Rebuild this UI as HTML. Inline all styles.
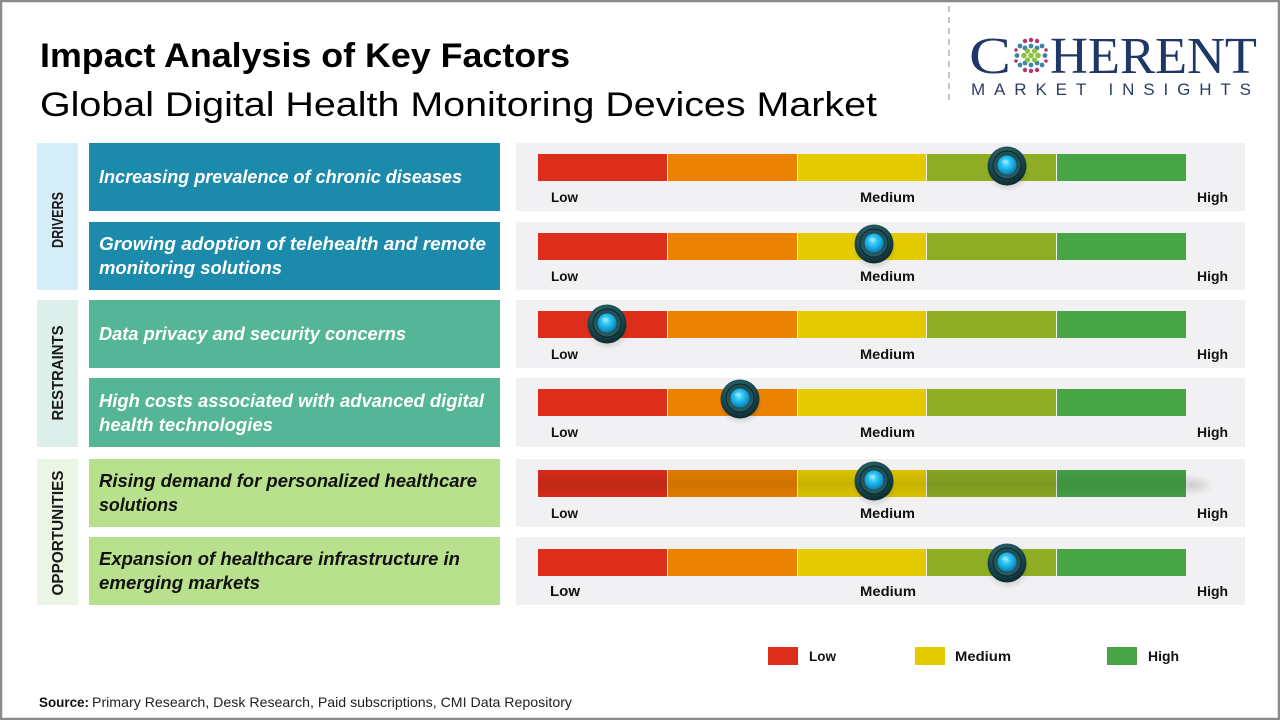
<!DOCTYPE html>
<html>
<head>
<meta charset="utf-8">
<style>
  html,body{margin:0;padding:0;background:#fff;}
  svg{display:block;}
  text{font-family:"Liberation Sans", sans-serif;}
</style>
</head>
<body>
<svg width="1280" height="720" viewBox="0 0 1280 720" xmlns="http://www.w3.org/2000/svg">
  <defs>
    <radialGradient id="outer" cx="45%" cy="35%" r="65%">
      <stop offset="0" stop-color="#3f7c82"/>
      <stop offset="0.6" stop-color="#1c4d53"/>
      <stop offset="1" stop-color="#0b2a2e"/>
    </radialGradient>
    <radialGradient id="ring" cx="50%" cy="40%" r="60%">
      <stop offset="0" stop-color="#12393d"/>
      <stop offset="1" stop-color="#2a6066"/>
    </radialGradient>
    <radialGradient id="ball" cx="45%" cy="38%" r="62%">
      <stop offset="0" stop-color="#7fe4ff"/>
      <stop offset="0.45" stop-color="#22bdf0"/>
      <stop offset="1" stop-color="#0a7fb8"/>
    </radialGradient>
    <radialGradient id="shadow" cx="50%" cy="50%" r="50%">
      <stop offset="0" stop-color="#000" stop-opacity="0.35"/>
      <stop offset="1" stop-color="#000" stop-opacity="0"/>
    </radialGradient>
    <radialGradient id="barshadow" cx="50%" cy="50%" r="50%">
      <stop offset="0" stop-color="#000" stop-opacity="0.15"/>
      <stop offset="1" stop-color="#000" stop-opacity="0"/>
    </radialGradient>
    <linearGradient id="dark" x1="0" y1="0" x2="0" y2="1">
      <stop offset="0" stop-color="#000" stop-opacity="0.05"/>
      <stop offset="0.5" stop-color="#000" stop-opacity="0.12"/>
      <stop offset="1" stop-color="#000" stop-opacity="0.05"/>
    </linearGradient>
    <g id="knob">
      <ellipse cx="1" cy="6" rx="22" ry="20" fill="url(#shadow)"/>
      <circle cx="0" cy="0" r="19.5" fill="url(#outer)"/>
      <circle cx="0" cy="-1" r="14" fill="url(#ring)" stroke="#0a2528" stroke-width="1"/>
      <circle cx="0" cy="-1" r="9.5" fill="url(#ball)"/>
      <ellipse cx="-2" cy="-4.5" rx="3" ry="2" fill="#d8f8ff" opacity="0.35"/>
    </g>
    <g id="bar">
      <rect x="538" y="0" width="129" height="27" fill="#dc2e1a"/>
      <rect x="668" y="0" width="129" height="27" fill="#eb8200"/>
      <rect x="798" y="0" width="128" height="27" fill="#e4cb00"/>
      <rect x="927" y="0" width="129" height="27" fill="#8fad24"/>
      <rect x="1057" y="0" width="129" height="27" fill="#47a547"/>
    </g>
  </defs>

  <!-- frame -->
  <rect x="1" y="1" width="1278" height="718" fill="#ffffff" stroke="#8a8a8a" stroke-width="2.5"/>

  <!-- titles -->
  <text x="40" y="67" font-size="34" font-weight="bold" fill="#000" textLength="530" lengthAdjust="spacingAndGlyphs">Impact Analysis of Key Factors</text>
  <text x="40" y="116" font-size="34" fill="#000" textLength="837" lengthAdjust="spacingAndGlyphs">Global Digital Health Monitoring Devices Market</text>

  <!-- logo -->
  <line x1="949" y1="6" x2="949" y2="100" stroke="#b0b0b0" stroke-width="1.5" stroke-dasharray="6,5"/>
  <text x="969" y="73" font-size="52" fill="#1f3766" textLength="42" lengthAdjust="spacingAndGlyphs" style="font-family:'Liberation Serif',serif">C</text>
  <text x="1050" y="73" font-size="52" fill="#1f3766" textLength="207" lengthAdjust="spacingAndGlyphs" style="font-family:'Liberation Serif',serif">HERENT</text>
  <g>
    <g fill="#b8336a">
      <circle cx="1025" cy="41" r="2.2"/><circle cx="1031" cy="40" r="2.2"/><circle cx="1037" cy="41" r="2.2"/>
      <circle cx="1025" cy="70" r="2.2"/><circle cx="1031" cy="71" r="2.2"/><circle cx="1037" cy="70" r="2.2"/>
      <circle cx="1016" cy="50" r="1.8"/><circle cx="1046" cy="50" r="1.8"/>
      <circle cx="1016" cy="61" r="1.8"/><circle cx="1046" cy="61" r="1.8"/>
    </g>
    <g fill="#3a85a8">
      <circle cx="1020" cy="46" r="2.4"/><circle cx="1042" cy="46" r="2.4"/>
      <circle cx="1020" cy="65" r="2.4"/><circle cx="1042" cy="65" r="2.4"/>
      <circle cx="1025" cy="48" r="2.4"/><circle cx="1037" cy="48" r="2.4"/>
      <circle cx="1025" cy="63" r="2.4"/><circle cx="1037" cy="63" r="2.4"/>
      <circle cx="1031" cy="46" r="2.4"/><circle cx="1031" cy="65" r="2.4"/>
      <circle cx="1017" cy="55.5" r="2.4"/><circle cx="1045" cy="55.5" r="2.4"/>
    </g>
    <g fill="#8cc43f">
      <circle cx="1024" cy="55.5" r="2.8"/><circle cx="1031" cy="55.5" r="2.8"/><circle cx="1038" cy="55.5" r="2.8"/>
      <circle cx="1027.5" cy="51" r="2.6"/><circle cx="1034.5" cy="51" r="2.6"/>
      <circle cx="1027.5" cy="60" r="2.6"/><circle cx="1034.5" cy="60" r="2.6"/>
    </g>
  </g>
  <text x="971" y="95" font-size="17" fill="#2a3e66" textLength="280" lengthAdjust="spacing">MARKET INSIGHTS</text>

  <!-- category bands -->
  <rect x="37" y="143" width="41" height="147" fill="#d4edf7"/>
  <rect x="37" y="300" width="41" height="147" fill="#dcefea"/>
  <rect x="37" y="459" width="41" height="146" fill="#ebf5e3"/>
  <text transform="translate(63,220) rotate(-90)" text-anchor="middle" font-size="16" font-weight="bold" fill="#1a1a1a" textLength="56" lengthAdjust="spacingAndGlyphs">DRIVERS</text>
  <text transform="translate(63,373) rotate(-90)" text-anchor="middle" font-size="16" font-weight="bold" fill="#1a1a1a" textLength="95" lengthAdjust="spacingAndGlyphs">RESTRAINTS</text>
  <text transform="translate(63,533) rotate(-90)" text-anchor="middle" font-size="16" font-weight="bold" fill="#1a1a1a" textLength="125" lengthAdjust="spacingAndGlyphs">OPPORTUNITIES</text>

  <!-- factor boxes -->
  <rect x="89" y="143" width="411" height="68" fill="#1b8aab"/>
  <rect x="89" y="222" width="411" height="68" fill="#1b8aab"/>
  <rect x="89" y="300" width="411" height="68" fill="#54b597"/>
  <rect x="89" y="378" width="411" height="69" fill="#54b597"/>
  <rect x="89" y="459" width="411" height="68" fill="#b9e08d"/>
  <rect x="89" y="537" width="411" height="68" fill="#b9e08d"/>

  <g font-size="18" font-weight="bold" font-style="italic">
    <text x="99" y="183" fill="#fff" textLength="363" lengthAdjust="spacingAndGlyphs">Increasing prevalence of chronic diseases</text>
    <text x="99" y="250" fill="#fff" textLength="387" lengthAdjust="spacingAndGlyphs">Growing adoption of telehealth and remote</text>
    <text x="99" y="274" fill="#fff" textLength="183" lengthAdjust="spacingAndGlyphs">monitoring solutions</text>
    <text x="99" y="340" fill="#fff" textLength="307" lengthAdjust="spacingAndGlyphs">Data privacy and security concerns</text>
    <text x="99" y="407" fill="#fff" textLength="385" lengthAdjust="spacingAndGlyphs">High costs associated with advanced digital</text>
    <text x="99" y="431" fill="#fff" textLength="174" lengthAdjust="spacingAndGlyphs">health technologies</text>
    <text x="99" y="487" fill="#111" textLength="378" lengthAdjust="spacingAndGlyphs">Rising demand for personalized healthcare</text>
    <text x="99" y="511" fill="#111" textLength="79" lengthAdjust="spacingAndGlyphs">solutions</text>
    <text x="99" y="565" fill="#111" textLength="361" lengthAdjust="spacingAndGlyphs">Expansion of healthcare infrastructure in</text>
    <text x="99" y="589" fill="#111" textLength="161" lengthAdjust="spacingAndGlyphs">emerging markets</text>
  </g>

  <!-- gauge panels -->
  <g fill="#f1f1f3">
    <rect x="516" y="143" width="729" height="68"/>
    <rect x="516" y="222" width="729" height="68"/>
    <rect x="516" y="300" width="729" height="68"/>
    <rect x="516" y="378" width="729" height="69"/>
    <rect x="516" y="459" width="729" height="68"/>
    <rect x="516" y="537" width="729" height="68"/>
  </g>

  <use href="#bar" y="154"/>
  <use href="#bar" y="233"/>
  <use href="#bar" y="311"/>
  <use href="#bar" y="389"/>
  <ellipse cx="1192" cy="485" rx="22" ry="11" fill="url(#barshadow)"/>
  <use href="#bar" y="470"/>
  <rect x="538" y="470" width="648" height="27" fill="url(#dark)"/>
  <use href="#bar" y="549"/>

  <!-- gauge labels -->
  <g font-size="14" font-weight="bold" fill="#111">
    <text x="551" y="202" textLength="27" lengthAdjust="spacingAndGlyphs">Low</text>
    <text x="860" y="202" textLength="55" lengthAdjust="spacingAndGlyphs">Medium</text>
    <text x="1197" y="202" textLength="31" lengthAdjust="spacingAndGlyphs">High</text>

    <text x="551" y="281" textLength="27" lengthAdjust="spacingAndGlyphs">Low</text>
    <text x="860" y="281" textLength="55" lengthAdjust="spacingAndGlyphs">Medium</text>
    <text x="1197" y="281" textLength="31" lengthAdjust="spacingAndGlyphs">High</text>

    <text x="551" y="359" textLength="27" lengthAdjust="spacingAndGlyphs">Low</text>
    <text x="860" y="359" textLength="55" lengthAdjust="spacingAndGlyphs">Medium</text>
    <text x="1197" y="359" textLength="31" lengthAdjust="spacingAndGlyphs">High</text>

    <text x="551" y="437" textLength="27" lengthAdjust="spacingAndGlyphs">Low</text>
    <text x="860" y="437" textLength="55" lengthAdjust="spacingAndGlyphs">Medium</text>
    <text x="1197" y="437" textLength="31" lengthAdjust="spacingAndGlyphs">High</text>

    <text x="551" y="518" textLength="27" lengthAdjust="spacingAndGlyphs">Low</text>
    <text x="860" y="518" textLength="55" lengthAdjust="spacingAndGlyphs">Medium</text>
    <text x="1197" y="518" textLength="31" lengthAdjust="spacingAndGlyphs">High</text>

    <text x="550" y="596" font-size="15" textLength="30" lengthAdjust="spacingAndGlyphs">Low</text>
    <text x="860" y="596" textLength="56" lengthAdjust="spacingAndGlyphs">Medium</text>
    <text x="1197" y="596" textLength="31" lengthAdjust="spacingAndGlyphs">High</text>
  </g>

  <!-- knobs -->
  <use href="#knob" x="1007" y="166"/>
  <use href="#knob" x="874" y="244"/>
  <use href="#knob" x="607" y="324"/>
  <use href="#knob" x="740" y="399"/>
  <use href="#knob" x="874" y="481"/>
  <use href="#knob" x="1007" y="563"/>

  <!-- legend -->
  <rect x="768" y="647" width="30" height="18" fill="#dc2e1a"/>
  <rect x="915" y="647" width="30" height="18" fill="#e4cb00"/>
  <rect x="1107" y="647" width="30" height="18" fill="#47a547"/>
  <g font-size="14" font-weight="bold" fill="#111">
    <text x="809" y="661" textLength="27" lengthAdjust="spacingAndGlyphs">Low</text>
    <text x="955" y="661" textLength="56" lengthAdjust="spacingAndGlyphs">Medium</text>
    <text x="1148" y="661" textLength="31" lengthAdjust="spacingAndGlyphs">High</text>
  </g>

  <!-- source -->
  <text x="39" y="707" font-size="14" font-weight="bold" fill="#111" textLength="50" lengthAdjust="spacingAndGlyphs">Source:</text>
  <text x="92" y="707" font-size="14" fill="#222" textLength="480" lengthAdjust="spacingAndGlyphs">Primary Research, Desk Research, Paid subscriptions, CMI Data Repository</text>
</svg>
</body>
</html>
